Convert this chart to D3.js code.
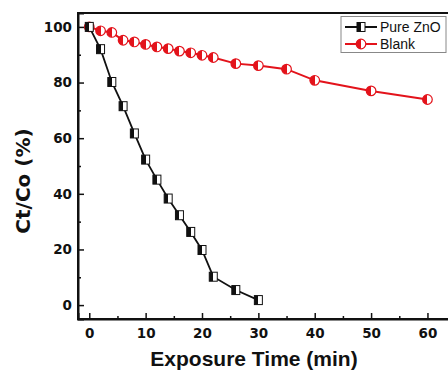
<!DOCTYPE html>
<html>
<head>
<meta charset="utf-8">
<script src="https://cdn.jsdelivr.net/npm/d3@7"></script>
<style>
  body { margin: 0; background: white; }
  svg { display: block; font-family: "Liberation Sans", Arial, sans-serif; }
</style>
</head>
<body>
<div id="chart"></div>
<script>
var time = [0, 2, 4, 6, 8, 10, 12, 14, 16, 18, 20, 22, 26, 30];
var pureZnO = [100, 92, 80.2, 71.5, 61.7, 52.3, 45.1, 38.3, 32.3, 26.3, 19.8, 10.2, 5.4, 1.8];

var blankTime = [0, 2, 4, 6, 8, 10, 12, 14, 16, 18, 20, 22, 26, 30, 35, 40, 50, 60];
var blank = [100, 98.6, 98, 95.2, 94.6, 93.7, 92.8, 92.2, 91.3, 90.7, 89.8, 89, 86.8, 86.1, 84.8, 80.8, 77, 73.9];

var xTicks = [0, 10, 20, 30, 40, 50, 60];
var xMinor = [5, 15, 25, 35, 45, 55];
var yTicks = [0, 20, 40, 60, 80, 100];
var yMinor = [10, 30, 50, 70, 90];

var seriesNames = ["Pure ZnO", "Blank"];

const width = 448;
const height = 376;

const xScale = d3.scaleLinear()
                    .domain([-2, 64])
                    .range([78, 450]);

const yScale = d3.scaleLinear()
                    .domain([-5, 105])
                    .range([319, 13]);

function makeData(xs, ys){
    var out = [];
    for(i = 0; i < xs.length; i++){
        out.push({x: xs[i], y: ys[i]});
    }
    return out;
}

var znoData = makeData(time, pureZnO);
var blankData = makeData(blankTime, blank);

let svg = d3.select('#chart')
                .append('svg')
                    .attr('width', width)
                    .attr('height', height);

// frame
svg.append('rect')
    .attr('x', xScale(-2))
    .attr('y', yScale(105))
    .attr('width', xScale(64) - xScale(-2))
    .attr('height', yScale(-5) - yScale(105))
    .attr('fill', 'none')
    .attr('stroke', '#111')
    .attr('stroke-width', 2);

// x-axis, ticks inside
let xAxis = svg.append('g')
    .attr('transform', `translate(0, ${yScale(-5)})`)
    .call(d3.axisBottom(xScale).tickValues(xTicks).tickSize(-6).tickPadding(9).tickFormat(d3.format('d')));

svg.append('g')
    .attr('transform', `translate(0, ${yScale(-5)})`)
    .call(d3.axisBottom(xScale).tickValues(xMinor).tickSize(-3).tickFormat(''))
    .select('.domain').remove();

// y-axis, ticks inside
let yAxis = svg.append('g')
    .attr('transform', `translate(${xScale(-2)}, 0)`)
    .call(d3.axisLeft(yScale).tickValues(yTicks).tickSize(-6).tickPadding(6).tickFormat(d3.format('d')));

svg.append('g')
    .attr('transform', `translate(${xScale(-2)}, 0)`)
    .call(d3.axisLeft(yScale).tickValues(yMinor).tickSize(-3).tickFormat(''))
    .select('.domain').remove();

svg.selectAll('.domain').attr('stroke', '#111').attr('stroke-width', 2);
svg.selectAll('.tick line').attr('stroke', '#111').attr('stroke-width', 1.5);
svg.selectAll('.tick text')
    .attr('fill', '#111')
    .style('font-size', '13.5px')
    .style('font-weight', 'bold')
    .style('font-family', '"DejaVu Sans", sans-serif');

// axis titles
svg.append('text')
    .attr('x', 254)
    .attr('y', 366)
    .attr('text-anchor', 'middle')
    .style('font-size', '21px')
    .style('font-weight', 'bold')
    .style('fill', '#111')
    .text('Exposure Time (min)');

svg.append('text')
    .attr('transform', 'translate(30, 181) rotate(-90)')
    .attr('text-anchor', 'middle')
    .style('font-size', '20px')
    .style('font-weight', 'bold')
    .style('font-family', '"DejaVu Sans", sans-serif')
    .style('fill', '#111')
    .text('Ct/Co (%)');

// half filled markers
var defs = svg.append('defs');
defs.append('linearGradient').attr('id', 'halfBlack')
    .selectAll('stop')
    .data([['0%', '#111'], ['50%', '#111'], ['50%', '#fff'], ['100%', '#fff']])
    .enter().append('stop')
        .attr('offset', (d) => d[0])
        .attr('stop-color', (d) => d[1]);
defs.append('linearGradient').attr('id', 'halfRed')
    .selectAll('stop')
    .data([['0%', '#e3131b'], ['50%', '#e3131b'], ['50%', '#fff'], ['100%', '#fff']])
    .enter().append('stop')
        .attr('offset', (d) => d[0])
        .attr('stop-color', (d) => d[1]);

var line = d3.line()
    .x((d) => xScale(d.x))
    .y((d) => yScale(d.y));

// blank series
svg.append('path')
    .datum(blankData)
    .attr('fill', 'none')
    .attr('stroke', '#e3131b')
    .attr('stroke-width', 2)
    .attr('d', line);

svg.append('g')
    .selectAll('circle')
    .data(blankData)
    .enter()
    .append('circle')
        .attr('cx', (d) => xScale(d.x))
        .attr('cy', (d) => yScale(d.y))
        .attr('r', 4.8)
        .attr('fill', 'url(#halfRed)')
        .attr('stroke', '#e3131b')
        .attr('stroke-width', 1.2);

// pure ZnO series
svg.append('path')
    .datum(znoData)
    .attr('fill', 'none')
    .attr('stroke', '#111')
    .attr('stroke-width', 1.8)
    .attr('d', line);

svg.append('g')
    .selectAll('rect')
    .data(znoData)
    .enter()
    .append('rect')
        .attr('x', (d) => xScale(d.x) - 4)
        .attr('y', (d) => yScale(d.y) - 4.5)
        .attr('width', 8)
        .attr('height', 9)
        .attr('fill', 'url(#halfBlack)')
        .attr('stroke', '#111')
        .attr('stroke-width', 1);

// legend
let legend = svg.append('g');
legend.append('rect')
    .attr('x', 341)
    .attr('y', 16.5)
    .attr('width', 105)
    .attr('height', 36)
    .attr('fill', 'white')
    .attr('stroke', '#888')
    .attr('stroke-width', 1);

legend.append('line')
    .attr('x1', 345).attr('x2', 377)
    .attr('y1', 27).attr('y2', 27)
    .attr('stroke', '#111').attr('stroke-width', 2);
legend.append('rect')
    .attr('x', 357).attr('y', 22.5).attr('width', 8).attr('height', 9)
    .attr('fill', 'url(#halfBlack)').attr('stroke', '#111');
legend.append('line')
    .attr('x1', 345).attr('x2', 377)
    .attr('y1', 44).attr('y2', 44)
    .attr('stroke', '#e3131b').attr('stroke-width', 2);
legend.append('circle')
    .attr('cx', 361).attr('cy', 44).attr('r', 4.8)
    .attr('fill', 'url(#halfRed)').attr('stroke', '#e3131b').attr('stroke-width', 1.2);

legend.selectAll('text.lab')
    .data(seriesNames)
    .enter()
    .append('text')
        .attr('class', 'lab')
        .attr('x', 380)
        .attr('y', (d, i) => 27 + i * 17)
        .attr('dy', '0.35em')
        .style('font-size', '14px')
        .style('fill', '#111')
        .text((d) => d);
</script>
</body>
</html>
